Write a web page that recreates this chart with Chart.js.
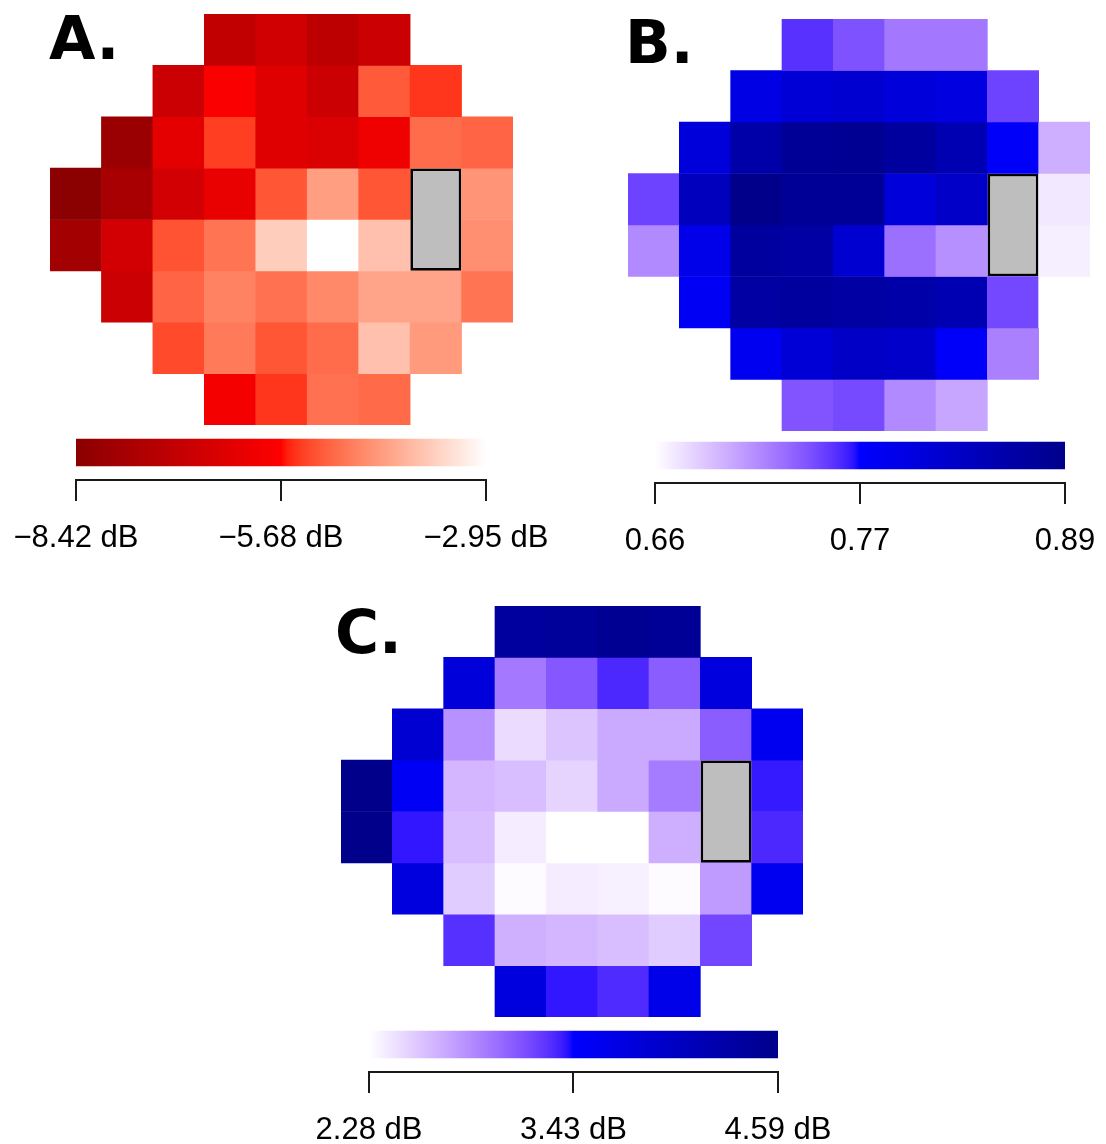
<!DOCTYPE html>
<html>
<head>
<meta charset="utf-8">
<script src="https://cdn.jsdelivr.net/npm/chart.js@4.4.1/dist/chart.umd.min.js"></script>
<style>
  html, body { margin: 0; padding: 0; background: #fff; }
  body { width: 1106px; height: 1144px; position: relative; overflow: hidden; }
  canvas { position: absolute; display: block; }
  .tag { position: absolute; font-family: 'DejaVu Sans', sans-serif; font-weight: bold;
         font-size: 60px; line-height: 60px; color: #000; white-space: nowrap; }
</style>
</head>
<body>
<div class="tag" style="left:49px; top:8px">A.</div>
<div class="tag" style="left:625px; top:12px">B.</div>
<div class="tag" style="left:335px; top:602px">C.</div>

<canvas id="fieldA" width="463" height="411" style="left:50px; top:14px"></canvas>
<canvas id="fieldB" width="462" height="412" style="left:628px; top:19px"></canvas>
<canvas id="fieldC" width="462" height="411" style="left:341px; top:606px"></canvas>

<canvas id="barA" width="590" height="150" style="left:-14px; top:425px"></canvas>
<canvas id="barB" width="590" height="150" style="left:565px; top:428px"></canvas>
<canvas id="barC" width="589" height="150" style="left:279px; top:1017px"></canvas>

<script>
// 24-2 test grid: 8 rows x 9 columns, rows listed top to bottom, null = no test point
const columnLabels = ['1', '2', '3', '4', '5', '6', '7', '8', '9'];
const blindSpotColumn = 7;
const blindSpotRows = [3, 5];

// A. mean deviation per location (dB)
const deviationA = [
  [null, null, null, -7.10, -6.75, -7.22, -6.87, null, null],
  [null, null, -6.87, -5.79, -6.40, -6.87, -5.14, -5.47, null],
  [null, -8.04, -6.29, -5.41, -6.40, -6.51, -6.04, -4.95, -5.03],
  [-8.42, -7.71, -6.72, -6.18, -5.19, -4.32, -5.19, null, -4.45],
  [-7.82, -6.72, -5.22, -4.86, -3.66, -2.95, -3.83, null, -4.51],
  [null, -6.89, -5.03, -4.67, -4.89, -4.59, -4.24, -4.24, -4.86],
  [null, null, -5.30, -4.78, -5.19, -4.95, -3.83, -4.37, null],
  [null, null, null, -5.92, -5.47, -4.89, -4.97, null, null]
];
const rangeA = [-8.42, -2.95];
const ticksA = ['\u22128.42 dB', '\u22125.68 dB', '\u22122.95 dB'];

// B. correlation per location
const correlationB = [
  [null, null, null, 0.761, 0.746, 0.727, 0.727, null, null],
  [null, null, 0.800, 0.814, 0.819, 0.810, 0.805, 0.753, null],
  [null, 0.810, 0.860, 0.879, 0.883, 0.869, 0.849, 0.780, 0.700],
  [0.753, 0.839, 0.890, 0.879, 0.879, 0.810, 0.828, null, 0.671],
  [0.718, 0.796, 0.869, 0.865, 0.819, 0.731, 0.715, null, 0.668],
  [null, 0.784, 0.865, 0.869, 0.865, 0.860, 0.849, 0.751, 0.660],
  [null, null, 0.789, 0.814, 0.830, 0.826, 0.780, 0.723, null],
  [null, null, null, 0.745, 0.750, 0.718, 0.704, null, null]
];
const rangeB = [0.66, 0.89];
const ticksB = ['0.66', '0.77', '0.89'];

// C. standard deviation per location (dB)
const spreadC = [
  [null, null, null, 4.38, 4.43, 4.52, 4.47, null, null],
  [null, null, 3.78, 2.95, 3.12, 3.33, 3.09, 3.74, null],
  [null, 3.87, 2.83, 2.45, 2.57, 2.70, 2.70, 3.09, 3.57],
  [4.59, 3.53, 2.64, 2.60, 2.49, 2.70, 2.94, null, 3.38],
  [4.59, 3.39, 2.60, 2.37, 2.28, 2.28, 2.68, null, 3.33],
  [null, 3.74, 2.53, 2.30, 2.37, 2.35, 2.30, 2.78, 3.57],
  [null, null, 3.30, 2.67, 2.64, 2.60, 2.53, 3.20, null],
  [null, null, null, 3.74, 3.39, 3.32, 3.64, null, null]
];
const rangeC = [2.28, 4.59];
const ticksC = ['2.28 dB', '3.43 dB', '4.59 dB'];

// colour ramps, low value first (interpolated in CIE Lab)
const rampRed = ['#8B0000', '#FF0000', '#FFFFFF'];
const rampBlue = ['#FFFFFF', '#0000FF', '#00008B'];

// ---- Lab colour interpolation ----
const WX = 0.95047, WY = 1.0, WZ = 1.08883;
const toLin = c => { c /= 255; return c <= 0.04045 ? c / 12.92 : Math.pow((c + 0.055) / 1.055, 2.4); };
const toGam = c => { c = Math.min(1, Math.max(0, c)); return 255 * (c <= 0.0031308 ? 12.92 * c : 1.055 * Math.pow(c, 1 / 2.4) - 0.055); };
const fLab = t => t > 0.008856 ? Math.cbrt(t) : 7.787 * t + 16 / 116;
const fInv = t => t > 0.206893 ? t * t * t : (t - 16 / 116) / 7.787;

function hexToLab(hex) {
  const n = parseInt(hex.slice(1), 16);
  const r = toLin((n >> 16) & 255), g = toLin((n >> 8) & 255), b = toLin(n & 255);
  const X = 0.4124 * r + 0.3576 * g + 0.1805 * b;
  const Y = 0.2126 * r + 0.7152 * g + 0.0722 * b;
  const Z = 0.0193 * r + 0.1192 * g + 0.9505 * b;
  const fx = fLab(X / WX), fy = fLab(Y / WY), fz = fLab(Z / WZ);
  return [116 * fy - 16, 500 * (fx - fy), 200 * (fy - fz)];
}
function labToCss([L, a, b]) {
  const fy = (L + 16) / 116, fx = fy + a / 500, fz = fy - b / 200;
  const X = WX * fInv(fx), Y = WY * fInv(fy), Z = WZ * fInv(fz);
  const r = 3.2406 * X - 1.5372 * Y - 0.4986 * Z;
  const g = -0.9689 * X + 1.8758 * Y + 0.0415 * Z;
  const bb = 0.0557 * X - 0.2040 * Y + 1.0570 * Z;
  return `rgb(${Math.round(toGam(r))},${Math.round(toGam(g))},${Math.round(toGam(bb))})`;
}
function makeColourScale(ramp, [min, max]) {
  const labs = ramp.map(hexToLab);
  return v => {
    let t = (v - min) / (max - min);
    t = Math.min(1, Math.max(0, t));
    const seg = t * (labs.length - 1);
    const i = Math.min(Math.floor(seg), labs.length - 2);
    const u = seg - i;
    return labToCss(labs[i].map((c, k) => c + (labs[i + 1][k] - c) * u));
  };
}

Chart.defaults.font.family = '"Liberation Sans", Arial, sans-serif';

// ---- field maps: each row is a dataset of floating bars [row, row + 1] ----
function drawField(id, values, colour) {
  const datasets = values.map((row, r) => ({
    data: row.map(v => (v == null ? null : [r, r + 1])),
    backgroundColor: row.map(v => (v == null ? 'rgba(0,0,0,0)' : colour(v))),
    borderWidth: 0,
    grouped: false,
    barPercentage: 1,
    categoryPercentage: 1
  }));
  datasets.push({
    data: columnLabels.map((_, c) => (c === blindSpotColumn ? blindSpotRows : null)),
    backgroundColor: '#BEBEBE',
    borderColor: '#000000',
    borderWidth: 3,
    borderSkipped: false,
    inflateAmount: 0,
    grouped: false,
    barPercentage: 1,
    categoryPercentage: 1
  });
  new Chart(document.getElementById(id), {
    type: 'bar',
    data: { labels: columnLabels, datasets },
    options: {
      responsive: false,
      animation: false,
      events: [],
      layout: { padding: 0 },
      plugins: { legend: { display: false }, tooltip: { enabled: false } },
      scales: {
        x: { display: false },
        y: { display: false, min: 0, max: 8, reverse: true }
      }
    }
  });
}

// ---- colour key: one gradient bar over a linear axis ----
function drawKey(id, range, labels, colour) {
  const [min, max] = range;
  const mid = (min + max) / 2;
  new Chart(document.getElementById(id), {
    type: 'bar',
    data: {
      labels: ['key'],
      datasets: [{
        data: [[min, max]],
        borderWidth: 0,
        barThickness: 27,
        backgroundColor: ctx => {
          const chart = ctx.chart;
          if (!chart.chartArea) return 'rgba(0,0,0,0)';
          const xs = chart.scales.x;
          const g = chart.ctx.createLinearGradient(xs.getPixelForValue(min), 0, xs.getPixelForValue(max), 0);
          const n = 64;
          for (let k = 0; k <= n; k++) g.addColorStop(k / n, colour(min + (max - min) * k / n));
          return g;
        }
      }]
    },
    options: {
      indexAxis: 'y',
      responsive: false,
      animation: false,
      events: [],
      layout: { padding: { left: 90, right: 90, top: 0, bottom: 0 } },
      plugins: { legend: { display: false }, tooltip: { enabled: false } },
      scales: {
        y: { display: false },
        x: {
          type: 'linear',
          position: 'bottom',
          min, max,
          afterBuildTicks: s => { s.ticks = [min, mid, max].map(value => ({ value })); },
          afterFit: s => { s.height = 95; },
          border: { display: true, color: '#1a1a1a', width: 2 },
          grid: { drawOnChartArea: false, drawTicks: true, tickLength: 21, color: '#1a1a1a', lineWidth: 2 },
          ticks: {
            autoSkip: false, maxRotation: 0, minRotation: 0, padding: 19,
            color: '#000', font: { size: 31 },
            callback: (v, i) => labels[i]
          }
        }
      }
    }
  });
}

const colourA = makeColourScale(rampRed, rangeA);
const colourB = makeColourScale(rampBlue, rangeB);
const colourC = makeColourScale(rampBlue, rangeC);

drawField('fieldA', deviationA, colourA);
drawField('fieldB', correlationB, colourB);
drawField('fieldC', spreadC, colourC);

drawKey('barA', rangeA, ticksA, colourA);
drawKey('barB', rangeB, ticksB, colourB);
drawKey('barC', rangeC, ticksC, colourC);
</script>
</body>
</html>
